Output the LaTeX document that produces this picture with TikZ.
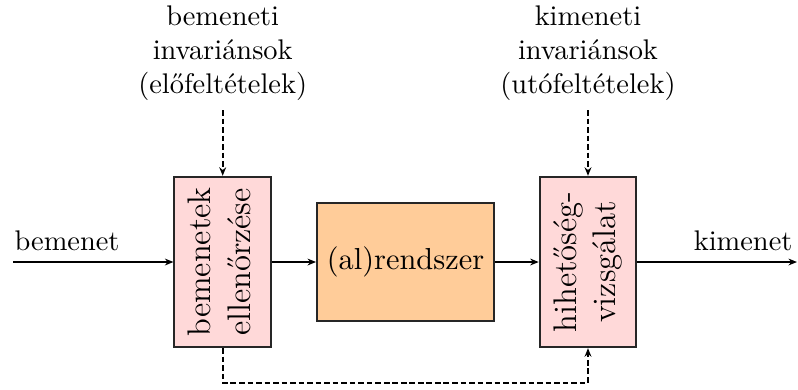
\documentclass[tikz,border=0pt]{standalone}
\usepackage{fontspec}
\usepackage{graphicx}
\usetikzlibrary{arrows.meta}
\definecolor{boxpink}{RGB}{255,217,217}
\definecolor{boxorange}{RGB}{255,204,153}
\newcommand{\boxfont}{\fontsize{10.7}{14}\selectfont}
\newcommand{\rotfont}{\fontsize{11.5}{14}\selectfont}
\tikzset{
  sidebox/.style={draw=black!85, line width=0.7pt, fill=boxpink, minimum width=34pt, minimum height=60pt, inner sep=0pt, font=\rotfont},
  midbox/.style={draw=black!85, line width=0.7pt, fill=boxorange, minimum width=62.3pt, minimum height=41.7pt, inner sep=0pt, font=\boxfont},
  flow/.style={line width=0.6pt, -{Stealth[length=3pt,width=2.4pt]}},
  dflow/.style={line width=0.6pt, dash pattern=on 2pt off 1pt},
  inv/.style={align=center, anchor=south, inner sep=0pt},
  lbl/.style={anchor=base, inner sep=0pt}
}
\begin{document}
\begin{tikzpicture}[x=0.35213pt, y=-0.35213pt]
\useasboundingbox (0,0) rectangle (798,389);
\node[sidebox] (chk) at (222.7,262) {\rotatebox{90}{\begin{tabular}{@{}c@{}}bemenetek\\ellenőrzése\end{tabular}}};
\node[midbox] (sys) at (405.5,262) {(al)rendszer};
\node[sidebox] (plaus) at (588,262) {\rotatebox{90}{\begin{tabular}{@{}c@{}}hihetőség-\\vizsgálat\end{tabular}}};
\node[inv] (pre) at (222.7,101) {bemeneti\\invariánsok\\(előfeltételek)};
\node[inv] (post) at (588,101) {kimeneti\\invariánsok\\(utófeltételek)};
\coordinate (in) at (13,262);
\coordinate (out) at (797,262);
\coordinate (pretop) at (222.7,110);
\coordinate (posttop) at (588,110);
\coordinate (bl) at (222.7,383);
\coordinate (br) at (588,383);
\node[lbl, anchor=base west] (inl) at (14,250) {bemenet};
\node[lbl, anchor=base east] (outl) at (793,250) {kimenet};
\draw[flow] (in) -- (chk);
\draw[flow] (chk) -- (sys);
\draw[flow] (sys) -- (plaus);
\draw[flow] (plaus) -- (out);
\draw[dflow, -{Stealth[length=3pt,width=2.4pt]}] (pretop) -- (chk.north);
\draw[dflow, -{Stealth[length=3pt,width=2.4pt]}] (posttop) -- (plaus.north);
\draw[dflow, -{Stealth[length=3pt,width=2.4pt]}] (chk.south) -- (bl) -- (br) -- (plaus.south);
\end{tikzpicture}
\end{document}
